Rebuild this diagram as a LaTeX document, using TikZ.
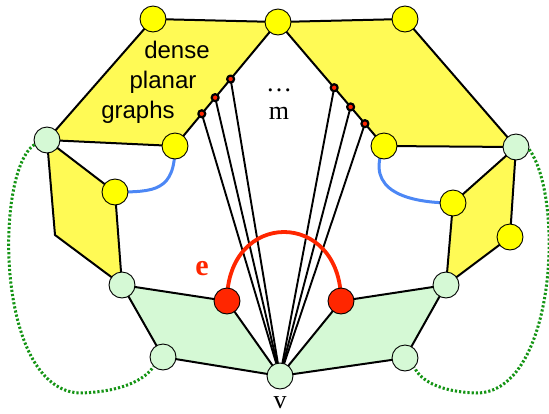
\documentclass[tikz,border=0pt]{standalone}
\usepackage{fontspec}
\setmainfont{Liberation Serif}
\setsansfont{Liberation Sans}
\usepackage{tikz}
\usetikzlibrary{backgrounds}
\definecolor{gpYellow}{HTML}{FFFF00}
\definecolor{gpFace}{HTML}{FFFA55}
\definecolor{gpMint}{HTML}{D5F9D5}
\definecolor{gpRed}{HTML}{FF2600}
\definecolor{gpBlue}{HTML}{4C87F5}
\definecolor{gpGreen}{HTML}{149414}
\tikzset{
  gp diagram/.style={x=1pt, y=-1pt, line cap=round, line join=round},
  gp vertex/.style={circle, draw=black, line width=0.9pt,
    minimum size=26pt, inner sep=0pt},
  gp yellow/.style={gp vertex, fill=gpYellow},
  gp mint/.style={gp vertex, fill=gpMint},
  gp red/.style={gp vertex, fill=gpRed},
  gp dot/.style={circle, draw=black, fill=gpRed, line width=2.2pt,
    minimum size=7pt, inner sep=0pt},
  gp edge/.style={draw=black, line width=2pt},
  gp face/.style={gp edge, fill=gpFace},
  gp mint face/.style={gp edge, fill=gpMint},
  gp spoke/.style={draw=black, line width=1.9pt},
  gp bridge/.style={draw=gpBlue, line width=3pt},
  gp chord/.style={draw=gpRed, line width=3.8pt},
  gp wrap/.style={draw=gpGreen, line width=3pt, line cap=butt,
    dash pattern=on 2.2pt off 2pt},
  gp sans/.style={font=\sffamily\fontsize{24}{28}\selectfont},
  gp serif/.style={font=\fontsize{26}{30}\selectfont}
}

\begin{document}
\begin{tikzpicture}[gp diagram]
\useasboundingbox (0,0) rectangle (549,413);
% outer faces
\node[gp yellow] (tl) at (153,19) {};
\node[gp yellow] (tm) at (278,22) {};
\node[gp yellow] (tr) at (405,19) {};
\node[gp mint] (lg) at (47,140) {};
\node[gp yellow] (ly) at (175,146) {};
\node[gp yellow] (ry) at (384,146) {};
\node[gp mint] (rg) at (516,147) {};
% side faces
\node[gp yellow] (ly2) at (115,192) {};
\coordinate (lc) at (55,235);
\node[gp mint] (lg2) at (122,285) {};
\node[gp yellow] (ry2) at (453,203) {};
\node[gp yellow] (ry3) at (510,237) {};
\node[gp mint] (rg2) at (446,285) {};
% bottom faces
\node[gp red] (lr) at (227,301) {};
\node[gp red] (rr) at (341,301) {};
\node[gp mint] (lg3) at (163,357) {};
\node[gp mint] (rg3) at (405,358) {};
\node[gp mint] (v) at (280,376) {};
% ends of the m edges
\path (tm.center) -- (ly.center)
  node[gp dot, pos=0.46] (a1) {} node[gp dot, pos=0.61] (a2) {}
  node[gp dot, pos=0.74] (a3) {};
\path (tm.center) -- (ry.center)
  node[gp dot, pos=0.53] (b1) {} node[gp dot, pos=0.685] (b2) {}
  node[gp dot, pos=0.82] (b3) {};
\coordinate (lbot) at (80,393);
\coordinate (rbot) at (477,393);

\begin{scope}[on background layer]
\filldraw[gp face] (tl.center) -- (tm.center) -- (ly.center) -- (lg.center) -- cycle;
\filldraw[gp face] (tm.center) -- (tr.center) -- (rg.center) -- (ry.center) -- cycle;
\filldraw[gp face] (lg.center) -- (ly2.center) -- (lg2.center) -- (lc) -- cycle;
\filldraw[gp face] (rg.center) -- (ry2.center) -- (rg2.center) -- (ry3.center) -- cycle;
\filldraw[gp mint face] (lg2.center) -- (lr.center) -- (v.center) -- (lg3.center) -- cycle;
\filldraw[gp mint face] (v.center) -- (rr.center) -- (rg2.center) -- (rg3.center) -- cycle;
\foreach \p in {a1,a2,a3,b1,b2,b3}
  \draw[gp spoke] (v.center) -- (\p.center);
\draw[gp bridge] (ly.center) .. controls +(0,45) and +(40,0) .. (ly2.center);
\draw[gp bridge] (ry.center) .. controls +(-20,45) and +(-45,0) .. (ry2.center);
\draw[gp chord] (lr.center) .. controls +(0,-92) and +(0,-92) .. (rr.center);
\end{scope}

\draw[gp wrap] (lg.200) .. controls +(-40,27) and +(-85,-3) .. (lbot)
  .. controls +(40,-1) and +(-9,14) .. (lg3.225);
\draw[gp wrap] (rg.-10) .. controls +(36,51) and +(78,-1) .. (rbot)
  .. controls +(-37,-1) and +(6,13) .. (rg3.-45);

\node[gp sans, anchor=base] (t1) at (177,58) {dense};
\node[gp sans, anchor=base] (t2) at (163,88) {planar};
\node[gp sans, anchor=base] (t3) at (138,118) {graphs};
\node[gp serif] (dots) at (279,90) {\ldots};
\node[gp serif, anchor=base] (ml) at (279,119) {m};
\node[gp serif, anchor=base, inner sep=1pt] (vl) at (280,408) {v};
\node[font=\bfseries\fontsize{30}{34}\selectfont, text=gpRed, anchor=base] (el) at (202,275) {e};
\end{tikzpicture}
\end{document}
